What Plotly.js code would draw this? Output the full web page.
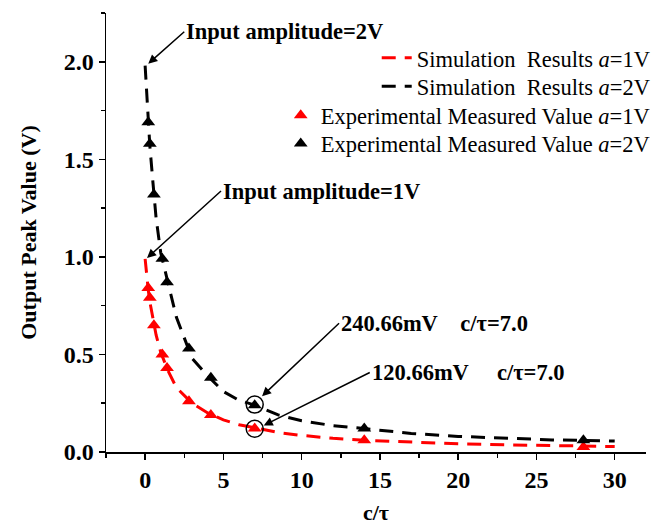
<!DOCTYPE html>
<html>
<head>
<meta charset="utf-8">
<script src="https://cdn.plot.ly/plotly-3.0.1.min.js"></script>
<style>html,body{margin:0;padding:0;background:#fff;}#chart{width:658px;height:527px;}</style>
</head>
<body>
<div id="chart"></div>
<script>
// Simulation curves
var simX = [0, 0.1, 0.2, 0.3, 0.5, 0.7, 1, 1.5, 2, 3, 4, 5, 6, 7, 8.5, 10, 12, 14, 17, 20, 23, 26, 30];
var simA1 = [0.99, 0.90, 0.83, 0.77, 0.68, 0.60, 0.51, 0.41, 0.33, 0.25, 0.20, 0.165, 0.14, 0.125, 0.10, 0.085, 0.07, 0.06, 0.05, 0.042, 0.037, 0.033, 0.028];
var simA2 = [1.98, 1.82, 1.69, 1.57, 1.38, 1.20, 1.02, 0.86, 0.69, 0.48, 0.39, 0.31, 0.265, 0.24, 0.19, 0.16, 0.135, 0.12, 0.095, 0.08, 0.07, 0.062, 0.056];
// Experimental measurements
var expX = [0.2, 0.3, 0.56, 1.1, 1.4, 2.8, 4.2, 7, 14, 28];
var expA1 = [0.84, 0.79, 0.65, 0.50, 0.43, 0.26, 0.19, 0.12, 0.06, 0.025];
var expA2 = [1.69, 1.58, 1.32, 0.99, 0.87, 0.53, 0.38, 0.24, 0.12, 0.06];
// Highlighted points (circled)
var circleX = [7, 7];
var circleY = [0.243, 0.119];
// Tick labels
var xTicks = [0, 5, 10, 15, 20, 25, 30];
var yTicks = [0, 0.5, 1.0, 1.5, 2.0];
var yTickText = ['0.0', '0.5', '1.0', '1.5', '2.0'];
// Labels
var legendNames = [
  'Simulation&nbsp; Results <i>a</i>=1V',
  'Simulation&nbsp; Results <i>a</i>=2V',
  'Experimental Measured Value <i>a</i>=1V',
  'Experimental Measured Value <i>a</i>=2V'
];
var annoTexts = [
  'Input amplitude=2V',
  'Input amplitude=1V',
  '240.66mV&nbsp;&nbsp;&nbsp;&nbsp;c/τ=7.0',
  '120.66mV&nbsp;&nbsp;&nbsp;&nbsp;&nbsp;c/τ=7.0'
];
var annoX = [0.2, 0.12, 7.47, 7.58];
var annoY = [1.99, 0.994, 0.286, 0.136];

var serif = 'Liberation Serif, Times New Roman, serif';
var DASH = '14px,9px';

var traces = [
  {x: simX, y: simA1, mode: 'lines', name: legendNames[0], legend: 'legend',
   line: {color: '#ff0000', width: 3, dash: DASH}},
  {x: simX, y: simA2, mode: 'lines', name: legendNames[1], legend: 'legend2',
   line: {color: '#000000', width: 3, dash: DASH}},
  {x: expX, y: expA1, mode: 'markers', name: legendNames[2], legend: 'legend3',
   marker: {symbol: 'triangle-up', size: 12, color: '#ff0000'}},
  {x: expX, y: expA2, mode: 'markers', name: legendNames[3], legend: 'legend4',
   marker: {symbol: 'triangle-up', size: 12, color: '#000000'}},
  {x: circleX, y: circleY, mode: 'markers', showlegend: false, hoverinfo: 'skip',
   marker: {symbol: 'circle-open', size: 17, color: '#000000', line: {width: 1.5, color: '#000000'}}}
];

var axDx = [36, 74, 77, 106];
var axDy = [-32, -67, -73, -53];
var annotations = annoTexts.map(function (t, i) {
  return {
    x: annoX[i], y: annoY[i], xref: 'x', yref: 'y',
    text: t, showarrow: true, ax: axDx[i], ay: axDy[i],
    xanchor: 'left', yanchor: 'middle',
    arrowhead: 2, arrowsize: 1.2, arrowwidth: 1.5, arrowcolor: '#000',
    font: {family: serif, size: 22.5, color: '#000', weight: 'bold'}
  };
});

function leg(y) {
  return {x: 1.018, xanchor: 'right', y: y, yanchor: 'top',
    bgcolor: 'rgba(0,0,0,0)', font: {family: serif, size: 22.5, color: '#000'}};
}

var layout = {
  width: 658, height: 527,
  margin: {l: 106, r: 12, t: 13, b: 75, pad: 0, autoexpand: false},
  paper_bgcolor: '#fff', plot_bgcolor: '#fff',
  font: {family: serif, color: '#000'},
  showlegend: true,
  legend: leg(0.946),
  legend2: leg(0.881),
  legend3: leg(0.815),
  legend4: leg(0.751),
  xaxis: {
    range: [-2.5, 32], tickvals: xTicks, ticktext: xTicks.map(String),
    showgrid: false, zeroline: false, showline: true, linecolor: '#000', linewidth: 1.5,
    ticks: 'outside', ticklen: 6, tickwidth: 1.5, tickcolor: '#000',
    minor: {dtick: 2.5, tick0: 0, ticks: 'outside', ticklen: 4, tickwidth: 1.5, tickcolor: '#000', showgrid: false},
    tickfont: {family: serif, size: 24, color: '#000', weight: 'bold'},
    title: {text: 'c/τ', font: {family: serif, size: 22, color: '#000', weight: 'bold'}, standoff: 12},
    automargin: false
  },
  yaxis: {
    range: [0, 2.25], tickvals: yTicks, ticktext: yTickText,
    showgrid: false, zeroline: false, showline: true, linecolor: '#000', linewidth: 1.5,
    ticks: 'outside', ticklen: 6, tickwidth: 1.5, tickcolor: '#000',
    minor: {dtick: 0.25, tick0: 0, ticks: 'outside', ticklen: 4, tickwidth: 1.5, tickcolor: '#000', showgrid: false},
    tickfont: {family: serif, size: 24, color: '#000', weight: 'bold'},
    title: {text: 'Output Peak Value (V)', font: {family: serif, size: 22, color: '#000', weight: 'bold'}, standoff: 21},
    automargin: false
  },
  annotations: annotations
};

Plotly.newPlot('chart', traces, layout, {displayModeBar: false, staticPlot: true});
</script>
</body>
</html>
